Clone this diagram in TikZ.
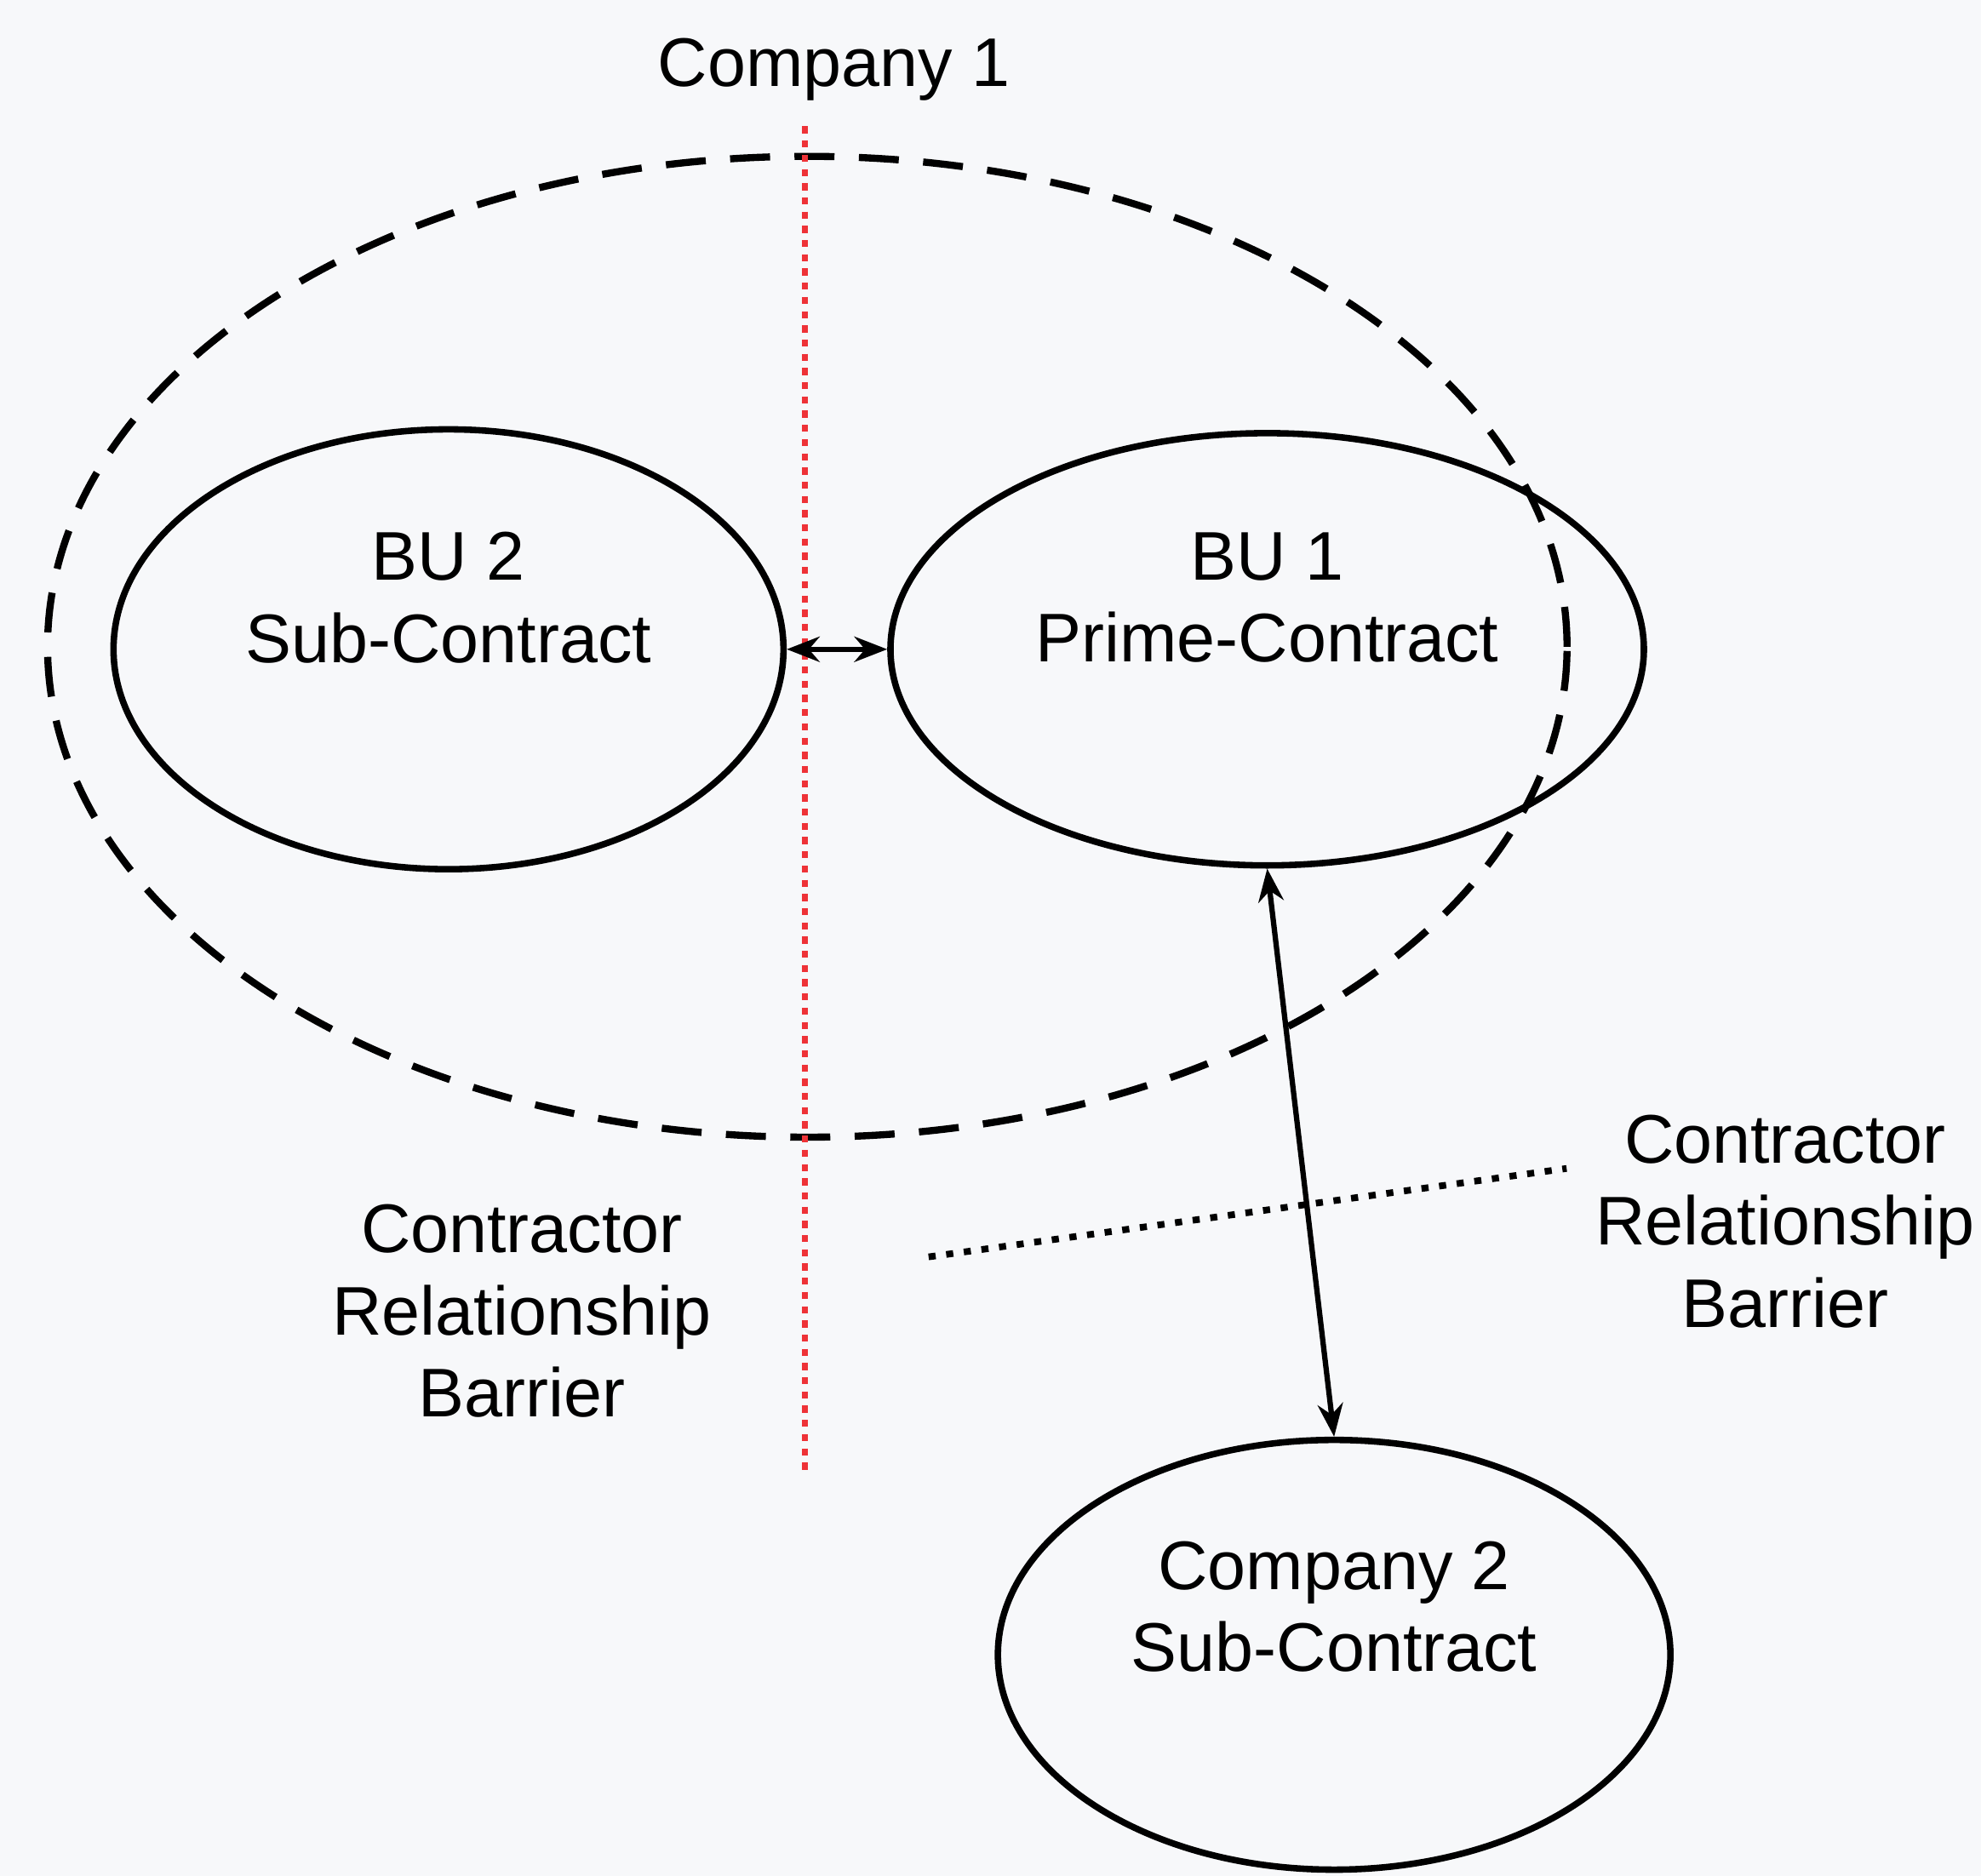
\documentclass[tikz,border=0pt]{standalone}
\usepackage{fontspec}
\setmainfont{Liberation Sans}
\usetikzlibrary{shapes.geometric,arrows.meta,positioning,calc}
\usepackage{xcolor}
\definecolor{paper}{RGB}{247,248,250}
\definecolor{barrier}{RGB}{238,50,55}

\begin{document}
\begin{tikzpicture}[x=0.01cm,y=-0.01cm,
  unit/.style={ellipse,draw,line width=1.45pt,inner sep=0pt},
  txt/.style={align=center,font=\fontsize{15.5}{18.5}\selectfont},
  link/.style={{Stealth[length=0.26cm,width=0.2cm]}-{Stealth[length=0.26cm,width=0.2cm]},line width=1.2pt}
]
\useasboundingbox[fill=paper] (0,0) rectangle (1568,1485);

% company 1 boundary
\node[ellipse,draw,line width=1.6pt,dash pattern=on 9pt off 5.5pt,
      minimum width=12.02cm,minimum height=7.76cm] (group) at (639,512) {};
\node[txt] (comp1lbl) at (660,55) {Company 1};
\coordinate (redtop) at (637,100);
\coordinate (redbot) at (637,1165);
\draw[barrier,line width=1.4pt,dash pattern=on 1.6pt off 1.6pt] (redtop) -- (redbot);

\node[unit,minimum width=5.3cm,minimum height=3.48cm] (bu2) at (355,514) {};
\node[unit,minimum width=5.96cm,minimum height=3.42cm] (bu1) at (1003,514) {};
\node[unit,minimum width=5.32cm,minimum height=3.4cm] (comp2) at (1056,1310) {};
\node[txt] (bu2lbl) at (355,473) {BU 2\\Sub-Contract};
\node[txt] (bu1lbl) at (1003,473) {BU 1\\Prime-Contract};
\node[txt] (comp2lbl) at (1056,1272) {Company 2\\Sub-Contract};

\draw[link] (bu2.east) -- (bu1.west);
\draw[link] (bu1.south) -- (comp2.north);

% relationship barrier
\coordinate (barl) at (735,995);
\coordinate (barr) at (1240,925);
\draw[line width=1.5pt,dash pattern=on 1.6pt off 2.4pt] (barl) -- (barr);

\node[txt] (leftlbl) at (413,1038) {Contractor\\Relationship\\Barrier};
\node[txt] (rightlbl) at (1413,967) {Contractor\\Relationship\\Barrier};
\end{tikzpicture}
\end{document}
